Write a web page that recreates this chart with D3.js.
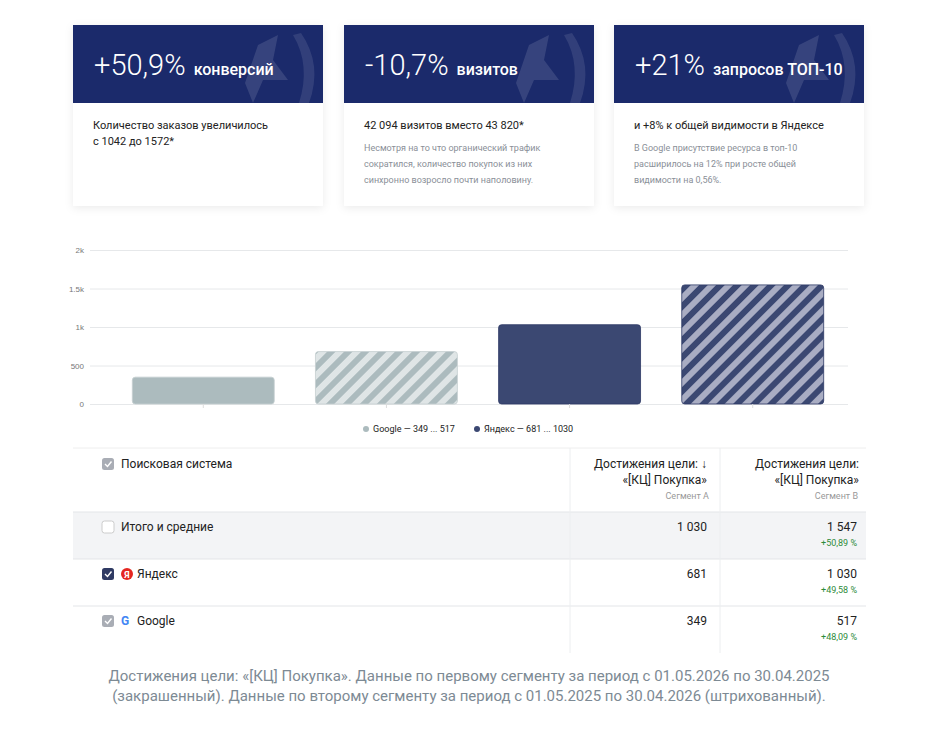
<!DOCTYPE html>
<html><head><meta charset="utf-8">
<script src="https://cdn.jsdelivr.net/npm/d3@7"></script>
<style>
body{margin:0;background:#fff;font-family:Roboto,"Noto Sans",sans-serif;}
</style></head>
<body><svg id="c" width="938" height="730"></svg>
<script>
var cardBig = ["+50,9%", "-10,7%", "+21%"],
    cardSmall = ["конверсий", "визитов", "запросов ТОП-10"],
    cardLead = [["Количество заказов увеличилось", "с 1042 до 1572*"], ["42 094 визитов вместо 43 820*"], ["и +8% к общей видимости в Яндексе"]],
    cardNote = [[], ["Несмотря на то что органический трафик", "сократился, количество покупок из них", "синхронно возросло почти наполовину."],
                ["В Google присутствие ресурса в топ-10", "расширилось на 12% при росте общей", "видимости на 0,56%."]];

var barKeys = ["g-a", "g-b", "y-a", "y-b"],
    barValues = [349, 681, 1030, 1547],
    yTicks = [0, 500, 1000, 1500, 2000],
    yTickLabels = ["0", "500", "1k", "1.5k", "2k"];

var rowNames = ["Итого и средние", "Яндекс", "Google"],
    segA = ["1 030", "681", "349"],
    segB = ["1 547", "1 030", "517"],
    segDelta = ["+50,89 %", "+49,58 %", "+48,09 %"];

var navy = "#1b2a6b", grey = "#acbbbe", dark = "#3b4872";
var svg = d3.select("#c");
var defs = svg.append("defs");
var f = defs.append("filter").attr("id", "sh").attr("x", "-10%").attr("y", "-10%").attr("width", "120%").attr("height", "130%");
f.append("feDropShadow").attr("dx", 0).attr("dy", 2).attr("stdDeviation", 4).attr("flood-color", "#000").attr("flood-opacity", 0.08);

function hatch(id, bg, fg) {
  var p = defs.append("pattern").attr("id", id).attr("patternUnits", "userSpaceOnUse")
    .attr("width", 12).attr("height", 12).attr("patternTransform", "rotate(45)");
  p.append("rect").attr("width", 12).attr("height", 12).attr("fill", bg);
  p.append("rect").attr("width", 6).attr("height", 12).attr("fill", fg);
}
hatch("hg", "#dfe5e6", grey);
hatch("hy", "#a9adc3", dark);

// cards
var cardX = [73, 344, 614];
cardX.forEach(function(x, i) {
  var g = svg.append("g").attr("transform", "translate(" + x + ",25)");
  g.append("rect").attr("width", 250).attr("height", 181).attr("fill", "#fff").attr("filter", "url(#sh)");
  g.append("rect").attr("width", 250).attr("height", 78).attr("fill", navy);
  g.append("path").attr("d", "M185,20 L205,10 L200,35 L215,55 L190,55 L180,78 L172,58 Z").attr("fill", "#fff").attr("opacity", 0.12);
  g.append("path").attr("d", "M228,8 Q250,40 236,78 L226,78 Q238,40 220,10 Z").attr("fill", "#fff").attr("opacity", 0.1);
  var t = g.append("text").attr("x", 21).attr("y", 50).attr("fill", "#fff");
  t.append("tspan").attr("font-size", 29).attr("font-weight", 300).text(cardBig[i]);
  t.append("tspan").attr("font-size", 16).attr("font-weight", 500).attr("dx", 8).text(cardSmall[i]);
  cardLead[i].forEach(function(s, j) {
    g.append("text").attr("x", 20).attr("y", 104 + j * 16).attr("font-size", 11).attr("fill", "#222").text(s);
  });
  cardNote[i].forEach(function(s, j) {
    g.append("text").attr("x", 20).attr("y", 126 + j * 16).attr("font-size", 9).attr("fill", "#8a8f98").text(s);
  });
});

// chart
var x = d3.scaleBand().domain(barKeys).range([114, 842]).paddingInner(0.225).paddingOuter(0.1);
var y = d3.scaleLinear().domain([0, 2000]).range([404, 250]);
var ax = svg.append("g").attr("transform", "translate(90,0)")
  .call(d3.axisLeft(y).tickValues(yTicks).tickFormat(function(d, i) { return yTickLabels[i]; }).tickSize(-758));
ax.select(".domain").remove();
ax.selectAll("line").attr("stroke", "#e6e8ea");
ax.selectAll("text").attr("fill", "#777").attr("font-size", 8).attr("x", -6);
var fills = [grey, "url(#hg)", dark, "url(#hy)"];
svg.selectAll(".bar").data(barValues).enter().append("rect")
  .attr("x", function(d, i) { return x(barKeys[i]); })
  .attr("width", x.bandwidth())
  .attr("y", function(d) { return y(d); })
  .attr("height", function(d) { return 404 - y(d); })
  .attr("rx", 3).attr("fill", function(d, i) { return fills[i]; })
  .attr("stroke", function(d, i) { return i < 2 ? "#c5cfd1" : "#2d3864"; }).attr("stroke-width", 0.8);
barKeys.forEach(function(k) {
  svg.append("line").attr("x1", x(k) + x.bandwidth() / 2).attr("x2", x(k) + x.bandwidth() / 2)
    .attr("y1", 404).attr("y2", 408).attr("stroke", "#ddd");
});
var lg = svg.append("g").attr("font-size", 9).attr("fill", "#222");
lg.append("circle").attr("cx", 366).attr("cy", 429).attr("r", 3).attr("fill", grey);
lg.append("text").attr("x", 373).attr("y", 432).text("Google — 349 ... 517");
lg.append("circle").attr("cx", 477).attr("cy", 429).attr("r", 3).attr("fill", dark);
lg.append("text").attr("x", 484).attr("y", 432).text("Яндекс — 681 ... 1030");

// table
var tb = svg.append("g");
tb.append("line").attr("x1", 73).attr("x2", 866).attr("y1", 448).attr("y2", 448).attr("stroke", "#eee");
tb.append("rect").attr("x", 73).attr("y", 512).attr("width", 793).attr("height", 47).attr("fill", "#f3f4f6");
[512, 559, 606].forEach(function(yy) {
  tb.append("line").attr("x1", 73).attr("x2", 866).attr("y1", yy).attr("y2", yy).attr("stroke", "#e3e5e8");
});
[570, 720].forEach(function(xx) {
  tb.append("line").attr("x1", xx).attr("x2", xx).attr("y1", 448).attr("y2", 653).attr("stroke", "#eceef0");
});
function box(xx, yy, style) {
  tb.append("rect").attr("x", xx).attr("y", yy).attr("width", 12).attr("height", 12).attr("rx", 2.5)
    .attr("fill", style === "empty" ? "#fff" : style === "dark" ? "#2f3a63" : "#a9adb5")
    .attr("stroke", style === "empty" ? "#ccc" : "none");
  if (style !== "empty")
    tb.append("path").attr("d", "M" + (xx + 3) + "," + (yy + 6) + " l2.5,2.5 l4,-5").attr("stroke", "#fff").attr("fill", "none").attr("stroke-width", 1.4);
}
box(102, 458, "grey");
tb.append("text").attr("x", 121).attr("y", 468).attr("font-size", 12).attr("fill", "#222").text("Поисковая система");
[[707, 568, "Достижения цели: ↓"], [859, 719, "Достижения цели:"]].forEach(function(c) {
  tb.append("text").attr("x", c[0]).attr("y", 468).attr("text-anchor", "end").attr("font-size", 12).attr("fill", "#222").text(c[2]);
  tb.append("text").attr("x", c[0]).attr("y", 484).attr("text-anchor", "end").attr("font-size", 12).attr("fill", "#222").text("«[КЦ] Покупка»");
});
tb.append("text").attr("x", 709).attr("y", 499).attr("text-anchor", "end").attr("font-size", 9).attr("fill", "#999").text("Сегмент А");
tb.append("text").attr("x", 858).attr("y", 499).attr("text-anchor", "end").attr("font-size", 9).attr("fill", "#999").text("Сегмент В");
var styles = ["empty", "dark", "grey"];
rowNames.forEach(function(n, i) {
  var ry = 512 + i * 47;
  box(102, ry + 9, styles[i]);
  var tx = 121;
  if (i === 1) {
    tb.append("circle").attr("cx", 127).attr("cy", ry + 15).attr("r", 6).attr("fill", "#e52620");
    tb.append("text").attr("x", 127).attr("y", ry + 19).attr("text-anchor", "middle").attr("font-size", 9).attr("font-weight", 700).attr("fill", "#fff").text("Я");
    tx = 137;
  } else if (i === 2) {
    tb.append("text").attr("x", 121).attr("y", ry + 19).attr("font-size", 12).attr("font-weight", 700).attr("fill", "#4285f4").text("G");
    tx = 137;
  }
  tb.append("text").attr("x", tx).attr("y", ry + 19).attr("font-size", 12).attr("fill", "#222").text(n);
  tb.append("text").attr("x", 707).attr("y", ry + 19).attr("text-anchor", "end").attr("font-size", 12).attr("fill", "#222").text(segA[i]);
  tb.append("text").attr("x", 857).attr("y", ry + 19).attr("text-anchor", "end").attr("font-size", 12).attr("fill", "#222").text(segB[i]);
  tb.append("text").attr("x", 857).attr("y", ry + 34).attr("text-anchor", "end").attr("font-size", 9).attr("fill", "#2e8b3a").text(segDelta[i]);
});

// caption
["Достижения цели: «[КЦ] Покупка».  Данные по первому сегменту за период с 01.05.2026 по 30.04.2025",
 "(закрашенный). Данные по второму сегменту за период с 01.05.2025 по 30.04.2026 (штрихованный)."].forEach(function(s, j) {
  svg.append("text").attr("x", 469).attr("y", 681 + j * 20).attr("text-anchor", "middle")
    .attr("font-size", 15).attr("fill", "#7d8a94").text(s);
});
</script></body></html>
